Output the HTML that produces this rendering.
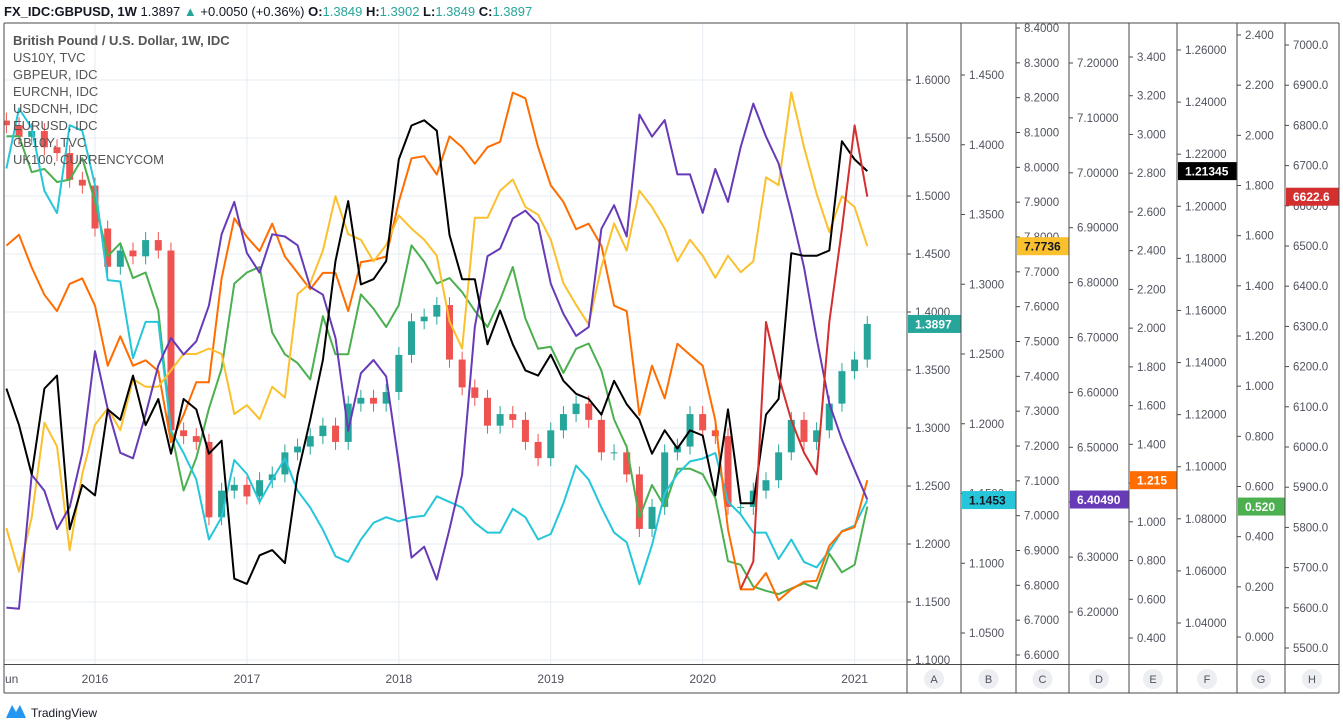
<!DOCTYPE html>
<html><head><meta charset="utf-8"><style>
html,body{margin:0;padding:0;background:#fff;width:1343px;height:726px;overflow:hidden;font-family:"Liberation Sans",sans-serif}
svg{display:block}
</style></head><body>
<svg id="chart" width="1343" height="726" xmlns="http://www.w3.org/2000/svg" font-family="Liberation Sans, sans-serif"></svg>
<script>
const dates = ["2015-06","2015-07","2015-08","2015-09","2015-10","2015-11","2015-12",
"2016-01","2016-02","2016-03","2016-04","2016-05","2016-06","2016-07","2016-08","2016-09","2016-10","2016-11","2016-12",
"2017-01","2017-02","2017-03","2017-04","2017-05","2017-06","2017-07","2017-08","2017-09","2017-10","2017-11","2017-12",
"2018-01","2018-02","2018-03","2018-04","2018-05","2018-06","2018-07","2018-08","2018-09","2018-10","2018-11","2018-12",
"2019-01","2019-02","2019-03","2019-04","2019-05","2019-06","2019-07","2019-08","2019-09","2019-10","2019-11","2019-12",
"2020-01","2020-02","2020-03","2020-04","2020-05","2020-06","2020-07","2020-08","2020-09","2020-10","2020-11","2020-12",
"2021-01","2021-02"];
const gbpusd = [1.561,1.551,1.556,1.542,1.537,1.514,1.509,
1.472,1.439,1.453,1.448,1.462,1.453,1.298,1.293,1.288,1.223,1.246,1.251,
1.241,1.255,1.260,1.279,1.284,1.293,1.302,1.288,1.321,1.326,1.321,1.331,
1.363,1.392,1.396,1.406,1.359,1.335,1.326,1.302,1.312,1.307,1.288,1.274,
1.298,1.312,1.321,1.307,1.279,1.279,1.260,1.213,1.232,1.279,1.284,1.312,
1.298,1.293,1.232,1.232,1.246,1.255,1.279,1.307,1.288,1.298,1.321,1.349,
1.359,1.3897];
const us10y = [2.426,2.482,2.313,2.172,2.088,2.229,2.257,
2.116,1.806,1.958,1.806,1.834,1.778,1.411,1.552,1.721,1.721,2.257,2.567,
2.471,2.398,2.539,2.370,2.285,2.201,2.285,2.285,2.088,2.341,2.352,2.370,
2.652,2.877,2.888,2.793,2.990,2.934,2.849,2.934,2.962,3.216,3.187,2.934,
2.737,2.652,2.511,2.539,2.426,2.116,2.088,1.552,1.806,1.637,1.919,1.862,
1.806,1.524,0.961,0.651,0.651,0.735,0.594,0.651,0.690,0.696,0.876,0.950,
0.972,1.215];
const gbpeur = [1.383,1.426,1.412,1.367,1.351,1.414,1.410,
1.371,1.303,1.302,1.247,1.273,1.273,1.195,1.179,1.160,1.117,1.133,1.174,
1.164,1.144,1.160,1.175,1.152,1.140,1.124,1.105,1.101,1.117,1.129,1.133,
1.130,1.133,1.134,1.148,1.144,1.140,1.129,1.122,1.122,1.139,1.133,1.117,
1.121,1.143,1.170,1.160,1.140,1.122,1.115,1.085,1.113,1.150,1.164,1.173,
1.175,1.179,1.144,1.135,1.122,1.122,1.103,1.117,1.101,1.097,1.109,1.123,
1.127,1.1453];
const eurcnh = [6.964,6.839,6.995,7.267,7.199,6.901,7.120,
7.261,7.308,7.245,7.392,7.370,7.370,7.417,7.464,7.464,7.480,7.464,7.292,
7.317,7.277,7.370,7.339,7.636,7.667,7.761,7.917,7.808,7.792,7.730,7.777,
7.862,7.824,7.792,7.746,7.558,7.480,7.855,7.855,7.933,7.965,7.886,7.864,
7.792,7.667,7.605,7.549,7.714,7.839,7.761,7.933,7.886,7.824,7.730,7.792,
7.746,7.683,7.746,7.699,7.730,7.971,7.949,8.215,8.058,7.924,7.814,7.917,
7.886,7.7736];
const usdcnh = [6.208,6.206,6.450,6.421,6.351,6.391,6.490,
6.675,6.570,6.490,6.480,6.560,6.649,6.699,6.669,6.693,6.758,6.888,6.947,
6.854,6.818,6.888,6.884,6.868,6.792,6.778,6.699,6.530,6.635,6.659,6.629,
6.470,6.299,6.319,6.259,6.351,6.450,6.719,6.848,6.862,6.917,6.931,6.907,
6.798,6.743,6.703,6.719,6.898,6.941,6.884,7.106,7.066,7.096,6.997,6.997,
6.927,7.007,6.947,7.047,7.126,7.066,7.017,6.927,6.828,6.699,6.580,6.514,
6.459,6.4049];
const eurusd = [1.130,1.116,1.097,1.130,1.135,1.076,1.093,
1.089,1.122,1.118,1.135,1.116,1.126,1.105,1.126,1.122,1.105,1.110,1.057,
1.055,1.066,1.068,1.063,1.097,1.118,1.141,1.179,1.202,1.170,1.172,1.179,
1.218,1.231,1.233,1.229,1.189,1.172,1.172,1.147,1.160,1.147,1.137,1.135,
1.143,1.133,1.128,1.126,1.120,1.133,1.124,1.118,1.105,1.114,1.107,1.114,
1.112,1.089,1.122,1.086,1.086,1.120,1.126,1.182,1.181,1.181,1.183,1.225,
1.218,1.2135];
const gb10y = [1.996,1.996,1.853,1.866,1.814,1.823,1.909,
1.735,1.518,1.570,1.431,1.453,1.301,0.823,0.584,0.714,0.910,1.070,1.409,
1.453,1.475,1.214,1.127,1.092,1.027,1.279,1.127,1.127,1.366,1.309,1.236,
1.323,1.561,1.496,1.409,1.431,1.375,1.301,1.236,1.344,1.475,1.270,1.149,
1.157,1.053,1.149,1.170,1.062,0.867,0.758,0.476,0.606,0.519,0.671,0.671,
0.649,0.554,0.302,0.288,0.201,0.184,0.171,0.193,0.214,0.193,0.332,0.258,
0.288,0.520];
const uk100Dates = ["2020-04","2020-05","2020-06","2020-07","2020-08","2020-09","2020-10","2020-11","2020-12","2021-01","2021-02"];
const uk100 = [5647,5715,6311,6176,6067,5986,5932,6311,6542,6800,6622.6];

const ticksA = ["1.6000","1.5500","1.5000","1.4500","1.4000","1.3500","1.3000","1.2500","1.2000","1.1500","1.1000"];
const ticksB = ["1.4500","1.4000","1.3500","1.3000","1.2500","1.2000","1.1500","1.1000","1.0500"];
const ticksC = ["8.4000","8.3000","8.2000","8.1000","8.0000","7.9000","7.8000","7.7000","7.6000","7.5000","7.4000","7.3000","7.2000","7.1000","7.0000","6.9000","6.8000","6.7000","6.6000"];
const ticksD = ["7.20000","7.10000","7.00000","6.90000","6.80000","6.70000","6.60000","6.50000","6.40000","6.30000","6.20000"];
const ticksE = ["3.400","3.200","3.000","2.800","2.600","2.400","2.200","2.000","1.800","1.600","1.400","1.200","1.000","0.800","0.600","0.400"];
const ticksF = ["1.26000","1.24000","1.22000","1.20000","1.18000","1.16000","1.14000","1.12000","1.10000","1.08000","1.06000","1.04000"];
const ticksG = ["2.400","2.200","2.000","1.800","1.600","1.400","1.200","1.000","0.800","0.600","0.400","0.200","0.000"];
const ticksH = ["7000.0","6900.0","6800.0","6700.0","6600.0","6500.0","6400.0","6300.0","6200.0","6100.0","6000.0","5900.0","5800.0","5700.0","5600.0","5500.0"];
const yearLabels = ["2016","2017","2018","2019","2020","2021"];

const NS = "http://www.w3.org/2000/svg";
const svg = document.getElementById("chart");
function mk(tag, attrs, parent){const e=document.createElementNS(NS,tag);for(const k in attrs)e.setAttribute(k,attrs[k]);(parent||svg).appendChild(e);return e;}
function lin(v1,y1,v2,y2){return v=>y1+(v-v1)*(y2-y1)/(v2-v1);}
const yA=lin(1.60,80,1.10,660), yB=lin(1.45,75,1.05,633), yC=lin(8.4,28,6.6,655), yD=lin(7.2,63,6.2,612);
const yE=lin(3.4,57,0.4,638), yF=lin(1.26,50,1.04,623), yG=lin(2.4,35,0.0,637), yH=lin(7000,45,5500,648);
function xS(d){const p=d.split("-");const idx=(+p[0]-2016)*12+(+p[1]-1);return 95+idx*12.66;}

// header
const hdr = mk("text",{x:4,y:16,"font-size":13,fill:"#131722"});


hdr.innerHTML='<tspan font-weight="bold">FX_IDC:GBPUSD, 1W</tspan> 1.3897 <tspan fill="#26a69a">▲</tspan> +0.0050 (+0.36%) <tspan font-weight="bold">O:</tspan><tspan fill="#26a69a">1.3849</tspan> <tspan font-weight="bold">H:</tspan><tspan fill="#26a69a">1.3902</tspan> <tspan font-weight="bold">L:</tspan><tspan fill="#26a69a">1.3849</tspan> <tspan font-weight="bold">C:</tspan><tspan fill="#26a69a">1.3897</tspan>';

// grid
const grid = mk("g",{});


ticksA.forEach(t=>{mk("line",{x1:4,x2:907,y1:yA(+t),y2:yA(+t),stroke:"#e6edf3","stroke-width":1},grid);});
yearLabels.forEach(t=>{const x=xS(t+"-01");mk("line",{x1:x,x2:x,y1:23,y2:664,stroke:"#e6edf3","stroke-width":1},grid);});

mk("defs",{}).innerHTML='<clipPath id="pc"><rect x="4" y="23" width="903" height="641"/></clipPath>';
const plot = mk("g",{"clip-path":"url(#pc)"});



// candles
for(let i=0;i<gbpusd.length;i++){
  const c=gbpusd[i], o=i>0?gbpusd[i-1]:gbpusd[i]+0.004;
  const up=c>=o, col=up?"#26a69a":"#ef5350", x=xS(dates[i]);
  const yo=yA(o), yc=yA(c), top=Math.min(yo,yc), bot=Math.max(yo,yc);
  const w=mk("line",{x1:x,x2:x,y1:top-8,y2:bot+8,stroke:col,"stroke-width":1},plot);
  
  
  const b=mk("rect",{x:x-3.5,y:top,width:7,height:Math.max(1,bot-top),fill:col},plot);
  
  
}
function line(ds,vals,sc,col,name){
  const pts=vals.map((v,i)=>xS(ds[i]).toFixed(1)+","+sc(v).toFixed(1)).join(" ");
  const p=mk("polyline",{points:pts,fill:"none",stroke:col,"stroke-width":2,"stroke-linejoin":"round"},plot);
  
  
}
line(dates,gb10y,yG,"#4caf50","gb10y-line");
line(dates,gbpeur,yB,"#26c6da","gbpeur-line");
line(dates,us10y,yE,"#ff6d00","us10y-line");
line(dates,eurcnh,yC,"#fbc02d","eurcnh-line");
line(dates,usdcnh,yD,"#673ab7","usdcnh-line");
line(dates,eurusd,yF,"#000000","eurusd-line");
line(uk100Dates,uk100,yH,"#d32f2f","uk100-line");

// legend
const legend=["US10Y, TVC","GBPEUR, IDC","EURCNH, IDC","USDCNH, IDC","EURUSD, IDC","GB10Y, TVC","UK100, CURRENCYCOM"];
const lt=mk("text",{x:13,y:45,"font-size":13,"font-weight":"bold",fill:"#555"});
lt.textContent="British Pound / U.S. Dollar, 1W, IDC";


legend.forEach((s,i)=>{const t=mk("text",{x:13,y:62+i*17,"font-size":13,fill:"#555"});t.textContent=s;
  
  });

// axes columns
const cols=[[907,961,ticksA,yA,"#26a69a","1.3897",gbpusd[gbpusd.length-1],"A","#fff"],
[961,1016,ticksB,yB,"#26c6da","1.1453",gbpeur[gbpeur.length-1],"B","#131722"],
[1016,1069,ticksC,yC,"#fbc02d","7.7736",eurcnh[eurcnh.length-1],"C","#131722"],
[1069,1129,ticksD,yD,"#673ab7","6.40490",usdcnh[usdcnh.length-1],"D","#fff"],
[1129,1177,ticksE,yE,"#ff6d00","1.215",us10y[us10y.length-1],"E","#fff"],
[1177,1237,ticksF,yF,"#000000","1.21345",eurusd[eurusd.length-1],"F","#fff"],
[1237,1285,ticksG,yG,"#4caf50","0.520",gb10y[gb10y.length-1],"G","#fff"],
[1285,1339,ticksH,yH,"#d32f2f","6622.6",uk100[uk100.length-1],"H","#fff"]];
cols.forEach(c=>{
  const g=mk("g",{});
  
  
  c[2].forEach(t=>{const y=c[3](+t); if(y<26||y>662)return;
    mk("line",{x1:c[0],x2:c[0]+4,y1:y,y2:y,stroke:"#4a4a4a"},g);
    const tx=mk("text",{x:c[0]+8,y:y+4,"font-size":11.5,fill:"#50535e"},g);tx.textContent=t;
    
    });
  const by=c[3](c[6]);
  const br=mk("rect",{x:c[0]+1,y:by-9,width:c[1]-c[0]-1,height:18,fill:c[4]},g);
  
  
  const bt=mk("text",{x:c[0]+8,y:by+4.5,"font-size":12,"font-weight":"bold",fill:c[8]},g);bt.textContent=c[5];
  
  
  const cx=(c[0]+c[1])/2;
  const ci=mk("circle",{cx:cx,cy:679,r:10,fill:"#eceef2"},g);
  
  
  const lb=mk("text",{x:cx,y:683,"font-size":11,fill:"#50535e","text-anchor":"middle"},g);lb.textContent=c[7];
  
  
  mk("line",{x1:c[1],x2:c[1],y1:23,y2:693,stroke:"#4a4a4a","stroke-width":1},g);
});
// frame
mk("line",{x1:4,x2:1339,y1:23,y2:23,stroke:"#4a4a4a"});
mk("line",{x1:4,x2:4,y1:23,y2:693,stroke:"#4a4a4a"});
mk("line",{x1:4,x2:1339,y1:664.5,y2:664.5,stroke:"#4a4a4a"});
mk("line",{x1:4,x2:1339,y1:693,y2:693,stroke:"#4a4a4a"});
mk("line",{x1:907,x2:907,y1:23,y2:693,stroke:"#4a4a4a"});
// x axis
const xa=mk("g",{});


const un=mk("text",{x:5,y:683,"font-size":12,fill:"#50535e"},xa);un.textContent="un";
yearLabels.forEach(t=>{const tx=mk("text",{x:xS(t+"-01"),y:683,"font-size":12,fill:"#50535e","text-anchor":"middle"},xa);tx.textContent=t;
  
  });
// logo
const lg=mk("g",{});


mk("path",{d:"M6 718 L12 705 L16 712 L20 705 L26 718 Z",fill:"#2196f3"},lg);
const lgt=mk("text",{x:31,y:717,"font-size":12,fill:"#131722"},lg);lgt.textContent="TradingView";
</script>
</body></html>
